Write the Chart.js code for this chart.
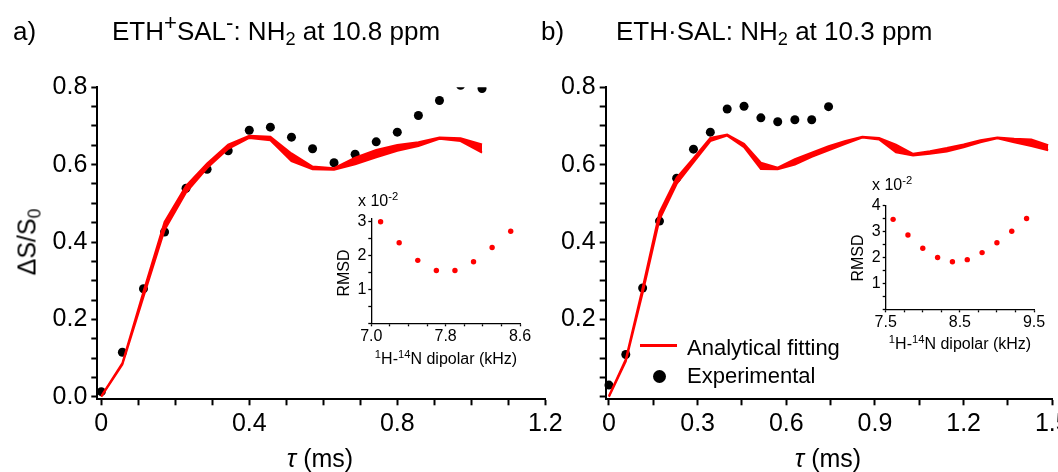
<!DOCTYPE html>
<html>
<head>
<meta charset="utf-8">
<script src="https://cdn.jsdelivr.net/npm/chart.js@4.4.1/dist/chart.umd.min.js"></script>
<style>
  html, body { margin: 0; padding: 0; background: #fff; }
  #page { position: relative; width: 1058px; height: 472px; overflow: hidden;
          font-family: "Liberation Sans", Arial, sans-serif; color: #000; }
  canvas { position: absolute; }
  .txt { position: absolute; white-space: nowrap; line-height: 1; }
  .txt sup { font-size: 0.7em; vertical-align: 0; position: relative; top: -0.55em; }
  .txt sub { font-size: 0.7em; vertical-align: 0; position: relative; top: 0.3em; }
  .title sup { font-size: 0.85em; top: -0.45em; }
  .rot { transform: translate(-50%, -50%) rotate(-90deg); }
  .ctr { transform: translateX(-50%); }
</style>
</head>
<body>
<div id="page">
  <canvas id="mainA" width="580" height="472" style="left:0;top:0"></canvas>
  <canvas id="mainB" width="560" height="472" style="left:530px;top:0"></canvas>
  <canvas id="insetA" width="210" height="190" style="left:330px;top:190px"></canvas>
  <canvas id="insetB" width="215" height="180" style="left:845px;top:180px"></canvas>

  <div class="txt" style="left:13px;top:18px;font-size:26px">a)</div>
  <div class="txt title" style="left:112px;top:18px;font-size:26px">ETH<sup>+</sup>SAL<sup>-</sup>: NH<sub>2</sub> at 10.8 ppm</div>
  <div class="txt" style="left:541px;top:18px;font-size:26px">b)</div>
  <div class="txt title" style="left:616px;top:18px;font-size:26px">ETH·SAL: NH<sub>2</sub> at 10.3 ppm</div>

  <div class="txt rot" style="left:27px;top:242px;font-size:25px">&Delta;S/S<sub>0</sub></div>
  <div class="txt ctr" style="left:320px;top:446px;font-size:25px"><i>&tau;</i> (ms)</div>
  <div class="txt ctr" style="left:828px;top:446px;font-size:25px"><i>&tau;</i> (ms)</div>

  <!-- legend (panel b) -->
  <div style="position:absolute;left:640px;top:344px;width:37px;height:3px;background:#ff0000"></div>
  <div class="txt" style="left:687px;top:337px;font-size:22px">Analytical fitting</div>
  <div style="position:absolute;left:653px;top:370px;width:13px;height:13px;border-radius:50%;background:#000"></div>
  <div class="txt" style="left:687px;top:365px;font-size:22px">Experimental</div>

  <!-- inset labels -->
  <div class="txt rot" style="left:344px;top:273px;font-size:16px">RMSD</div>
  <div class="txt" style="left:358px;top:193px;font-size:16px">x 10<sup>-2</sup></div>
  <div class="txt ctr" style="left:446px;top:351px;font-size:16px"><sup>1</sup>H-<sup>14</sup>N dipolar (kHz)</div>
  <div class="txt rot" style="left:858px;top:258px;font-size:16px">RMSD</div>
  <div class="txt" style="left:872px;top:177px;font-size:16px">x 10<sup>-2</sup></div>
  <div class="txt ctr" style="left:960px;top:336px;font-size:16px"><sup>1</sup>H-<sup>14</sup>N dipolar (kHz)</div>
</div>

<script>
// ---- panel a: ETH+SAL-, NH2 at 10.8 ppm ----
const tauA = [0, 0.057, 0.114, 0.171, 0.229, 0.286, 0.343, 0.400, 0.457, 0.514,
              0.571, 0.629, 0.686, 0.743, 0.800, 0.857, 0.914, 0.971, 1.029];
const expA = [0.013, 0.115, 0.279, 0.426, 0.539, 0.588, 0.636, 0.689, 0.697, 0.671,
              0.641, 0.605, 0.627, 0.659, 0.684, 0.727, 0.766, 0.805, 0.797];
const fitLowA = [0, 0.083, 0.258, 0.431, 0.528, 0.591, 0.641, 0.669, 0.663, 0.609,
                 0.588, 0.587, 0.601, 0.619, 0.636, 0.648, 0.667, 0.661, 0.631];
const fitHighA = [0.002, 0.087, 0.272, 0.452, 0.545, 0.603, 0.652, 0.675, 0.672, 0.629,
                  0.595, 0.591, 0.618, 0.638, 0.651, 0.658, 0.670, 0.668, 0.652];

// ---- panel b: ETH·SAL, NH2 at 10.3 ppm ----
const tauB = [0, 0.057, 0.114, 0.171, 0.229, 0.286, 0.343, 0.400, 0.457, 0.514,
              0.571, 0.629, 0.686, 0.743, 0.800, 0.857, 0.914, 0.971, 1.029, 1.086,
              1.143, 1.200, 1.257, 1.314, 1.371, 1.429, 1.486];
const expB = [0.030, 0.109, 0.281, 0.454, 0.565, 0.640, 0.684, 0.744, 0.751, 0.721,
              0.711, 0.716, 0.716, 0.750];
const fitLowB = [0, 0.091, 0.268, 0.458, 0.550, 0.606, 0.661, 0.675, 0.645, 0.589,
                 0.588, 0.600, 0.620, 0.637, 0.654, 0.670, 0.665, 0.632, 0.624, 0.628,
                 0.634, 0.645, 0.658, 0.668, 0.658, 0.648, 0.637];
const fitHighB = [0.002, 0.097, 0.282, 0.477, 0.566, 0.617, 0.669, 0.678, 0.654, 0.605,
                  0.592, 0.614, 0.631, 0.648, 0.661, 0.672, 0.669, 0.652, 0.628, 0.635,
                  0.643, 0.652, 0.663, 0.670, 0.667, 0.665, 0.650];

// ---- insets: RMSD (x 10^-2) vs 1H-14N dipolar coupling (kHz) ----
const dipA = [7.1, 7.3, 7.5, 7.7, 7.9, 8.1, 8.3, 8.5];
const rmsdA = [3.0, 2.38, 1.86, 1.56, 1.56, 1.82, 2.24, 2.72];
const dipB = [7.6, 7.8, 8.0, 8.2, 8.4, 8.6, 8.8, 9.0, 9.2, 9.4];
const rmsdB = [3.46, 2.86, 2.35, 1.99, 1.83, 1.91, 2.18, 2.56, 3.0, 3.49];

// ---- tick labels ----
const yMajorMain = [0, 0.2, 0.4, 0.6, 0.8];
const yLabelsA = ['0.0', '0.2', '0.4', '0.6', '0.8'];
const yLabelsB = ['', '0.2', '0.4', '0.6', '0.8'];
const xMajorA = [0, 0.4, 0.8, 1.2];
const xLabelsA = ['0', '0.4', '0.8', '1.2'];
const xMajorB = [0, 0.3, 0.6, 0.9, 1.2, 1.5];
const xLabelsB = ['0', '0.3', '0.6', '0.9', '1.2', '1.5'];
const xMajorInA = [7.0, 7.8, 8.6];
const xLabelsInA = ['7.0', '7.8', '8.6'];
const xMajorInB = [7.5, 8.5, 9.5];
const xLabelsInB = ['7.5', '8.5', '9.5'];
const yMajorInA = [1, 2, 3];
const yLabelsInA = ['1', '2', '3'];
const yMajorInB = [1, 2, 3, 4];
const yLabelsInB = ['1', '2', '3', '4'];

const RED = '#ff0000';
Chart.defaults.font.family = '"Liberation Sans", Arial, sans-serif';
Chart.defaults.color = '#000';

// tick marks every step, labels only where listed
function tickRange(start, stop, step) {
    const out = [];
    for (let v = start; v <= stop + 1e-9; v += step) out.push(Math.round(v * 1000) / 1000);
    return out;
}
function labeller(majors, labels) {
    return function(value) {
        const i = majors.findIndex(m => Math.abs(m - value) < 1e-6);
        return i >= 0 ? labels[i] : '';
    };
}
function points(xs, ys) {
    return ys.map((y, i) => ({ x: xs[i], y: y }));
}

function axis(o) {
    return {
        type: 'linear',
        min: o.min,
        max: o.max,
        afterFit: o.fit,
        afterBuildTicks: function(scale) {
            scale.ticks = o.marks.map(v => ({ value: v }));
        },
        ticks: {
            autoSkip: false,
            maxRotation: 0,
            padding: o.pad,
            font: { size: o.size },
            callback: labeller(o.majors, o.labels)
        },
        grid: { drawOnChartArea: false, tickLength: o.tick, tickWidth: o.lw, tickColor: '#000' },
        border: { display: true, color: '#000', width: o.lw }
    };
}

function mainChart(id, tau, exp, low, high, opt) {
    return new Chart(document.getElementById(id), {
        type: 'line',
        data: {
            datasets: [
                { data: points(tau, low), borderColor: RED, borderWidth: 2, pointRadius: 0, tension: 0, fill: false },
                { data: points(tau, high), borderColor: RED, borderWidth: 2, pointRadius: 0, tension: 0,
                  fill: '-1', backgroundColor: RED },
                { data: points(tau, exp), showLine: false, pointRadius: 4.5, pointBorderWidth: 0,
                  pointBackgroundColor: '#000', clip: { left: 10, top: 0, right: 10, bottom: 10 } }
            ]
        },
        options: {
            responsive: false,
            animation: false,
            events: [],
            layout: { padding: { top: 87.3, right: opt.right, left: 0, bottom: 0 } },
            plugins: { legend: { display: false }, tooltip: { enabled: false } },
            scales: {
                x: axis({ min: opt.xmin, max: opt.xmax, marks: opt.xmarks, majors: opt.xmajors,
                          labels: opt.xlabels, size: 25, pad: 4, tick: 6, lw: 2,
                          fit: s => { s.height = 72.7; } }),
                y: axis({ min: -0.0067, max: 0.8, marks: tickRange(0, 0.8, 0.05), majors: yMajorMain,
                          labels: opt.ylabels, size: 25, pad: 4, tick: 6, lw: 2,
                          fit: s => { s.width = opt.yw; } })
            }
        }
    });
}

function insetChart(id, dip, rmsd, opt) {
    return new Chart(document.getElementById(id), {
        type: 'line',
        data: {
            datasets: [{ data: points(dip, rmsd), showLine: false, pointRadius: 2.7,
                         pointBorderWidth: 0, pointBackgroundColor: RED }]
        },
        options: {
            responsive: false,
            animation: false,
            events: [],
            layout: { padding: { top: opt.top, right: opt.right, left: 0, bottom: 0 } },
            plugins: { legend: { display: false }, tooltip: { enabled: false } },
            scales: {
                x: axis({ min: opt.xmin, max: opt.xmax, marks: opt.xmarks, majors: opt.xmajors,
                          labels: opt.xlabels, size: 16, pad: 1, tick: 3, lw: 1.3,
                          fit: s => { s.height = opt.xh; } }),
                y: axis({ min: 0, max: opt.ymax, marks: opt.ymarks, majors: opt.ymajors,
                          labels: opt.ylabels, size: 16, pad: 2, tick: 3, lw: 1.3,
                          fit: s => { s.width = opt.yw; } })
            }
        }
    });
}

mainChart('mainA', tauA, expA, fitLowA, fitHighA, {
    right: 34.7, yw: 97.3, xmin: -0.0108, xmax: 1.2,
    xmarks: tickRange(0, 1.2, 0.1), xmajors: xMajorA, xlabels: xLabelsA, ylabels: yLabelsA
});
mainChart('mainB', tauB, expB, fitLowB, fitHighB, {
    right: 37.7, yw: 75.7, xmin: -0.011, xmax: 1.5,
    xmarks: tickRange(0, 1.5, 0.15), xmajors: xMajorB, xlabels: xLabelsB, ylabels: yLabelsB
});
insetChart('insetA', dipA, rmsdA, {
    top: 28.4, right: 20, xh: 56.7, yw: 41.3, xmin: 7.0, xmax: 8.6, ymax: 3.1,
    xmarks: tickRange(7.0, 8.6, 0.2), xmajors: xMajorInA, xlabels: xLabelsInA,
    ymarks: tickRange(0, 3, 0.5), ymajors: yMajorInA, ylabels: yLabelsInA
});
insetChart('insetB', dipB, rmsdB, {
    top: 25.3, right: 26, xh: 50.7, yw: 40.7, xmin: 7.5, xmax: 9.5, ymax: 4,
    xmarks: tickRange(7.5, 9.5, 0.25), xmajors: xMajorInB, xlabels: xLabelsInB,
    ymarks: tickRange(0, 4, 0.5), ymajors: yMajorInB, ylabels: yLabelsInB
});
</script>
</body>
</html>
